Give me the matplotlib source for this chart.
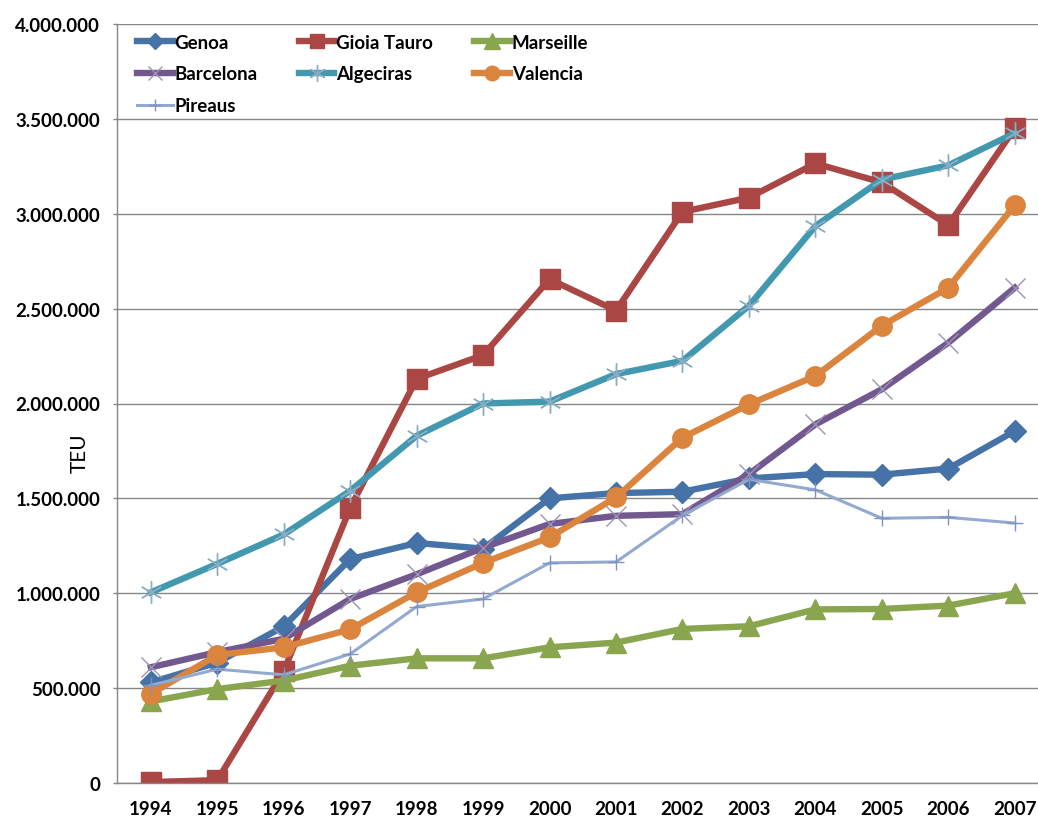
import matplotlib
matplotlib.use("Agg")
import matplotlib.pyplot as plt
import matplotlib.ticker as mticker

#######################################
# Data (TEU per port)
#######################################
years = [1994, 1995, 1996, 1997, 1998, 1999, 2000,
         2001, 2002, 2003, 2004, 2005, 2006, 2007]

genoa = [530000, 635000, 825000, 1180000, 1265000, 1235000, 1500000,
         1528000, 1535000, 1605000, 1628000, 1625000, 1657000, 1855000]
gioia_tauro = [5000, 15000, 590000, 1450000, 2130000, 2255000, 2655000,
               2490000, 3010000, 3085000, 3265000, 3165000, 2940000, 3450000]
marseille = [430000, 495000, 540000, 618000, 657000, 657000, 715000,
             740000, 812000, 826000, 915000, 917000, 935000, 1000000]
barcelona = [610000, 690000, 760000, 970000, 1100000, 1240000, 1365000,
             1408000, 1417000, 1628000, 1890000, 2075000, 2320000, 2610000]
algeciras = [1005000, 1155000, 1310000, 1540000, 1830000, 2000000, 2010000,
             2155000, 2225000, 2515000, 2935000, 3180000, 3255000, 3425000]
valencia = [470000, 675000, 715000, 810000, 1005000, 1160000, 1295000,
            1505000, 1820000, 1995000, 2145000, 2410000, 2610000, 3045000]
pireaus = [515000, 600000, 570000, 680000, 930000, 970000, 1160000,
           1165000, 1410000, 1600000, 1545000, 1395000, 1400000, 1370000]

#######################################
# Style
#######################################
plt.rcParams['font.family'] = ['Lato', 'DejaVu Sans']

fig = plt.figure(figsize=(10.38, 8.2), dpi=100)
ax = fig.add_axes([117 / 1038, 36 / 820, 921 / 1038, 759 / 820])

lw = 4.6
handles = {}
handles['Genoa'], = ax.plot(years, genoa, color='#4572A7', lw=lw, marker='D', ms=11,
                            label='Genoa')
handles['Gioia Tauro'], = ax.plot(years, gioia_tauro, color='#AA4643', lw=lw, marker='s', ms=14,
                                  label='Gioia Tauro')
handles['Marseille'], = ax.plot(years, marseille, color='#89A54E', lw=lw, marker='^', ms=15,
                                label='Marseille')
handles['Barcelona'], = ax.plot(years, barcelona, color='#71588F', lw=lw, marker='x', ms=14,
                                mew=1.0, mec='#9C93B5', label='Barcelona')
handles['Algeciras'], = ax.plot(years, algeciras, color='#4198AF', lw=lw, marker=(6, 2, 0), ms=16,
                                mew=1.0, mec='#8AADC4', label='Algeciras')
handles['Valencia'], = ax.plot(years, valencia, color='#DB843D', lw=lw, marker='o', ms=14,
                               label='Valencia')
handles['Pireaus'], = ax.plot(years, pireaus, color='#93A9CF', lw=2.2, marker='+', ms=11,
                              mew=1.0, mec='#7F93C0', label='Pireaus')

# Axes, ticks, grid
ax.set_xlim(1993.49, 2007.35)
ax.set_ylim(0, 4000000)
ax.set_xticks(years)
ax.set_yticks(range(0, 4000001, 500000))
ax.yaxis.set_major_formatter(mticker.FuncFormatter(lambda v, _: f"{int(v):,}".replace(',', '.')))
ax.tick_params(axis='y', length=3, width=1, color='#868686', pad=9, labelsize=13.5)
ax.tick_params(axis='x', length=0, pad=12, labelsize=13.5)
for lab in ax.get_xticklabels() + ax.get_yticklabels():
    lab.set_fontweight('bold')

ax.grid(axis='y', color='#868686', lw=1.0)
ax.set_axisbelow(True)
for side in ['top', 'right']:
    ax.spines[side].set_visible(False)
for side in ['left', 'bottom']:
    ax.spines[side].set_color('#868686')
    ax.spines[side].set_linewidth(1.0)

ax.set_ylabel('TEU', fontsize=15)
ax.yaxis.set_label_coords(-0.03, 0.436)

# Legend in Excel row order (matplotlib fills columns first)
order = ['Genoa', 'Barcelona', 'Pireaus', 'Gioia Tauro', 'Algeciras', 'Marseille', 'Valencia']
leg = ax.legend([handles[k] for k in order], order, loc='upper left',
                bbox_to_anchor=(0.0217, 0.987), ncol=3, frameon=False,
                borderpad=0, borderaxespad=0, handlelength=1.9, handletextpad=0.1,
                columnspacing=2.2, labelspacing=0.78, numpoints=1, markerscale=0.75,
                prop={'weight': 'bold', 'size': 13.5})

fig.savefig('out.png', dpi=100)
